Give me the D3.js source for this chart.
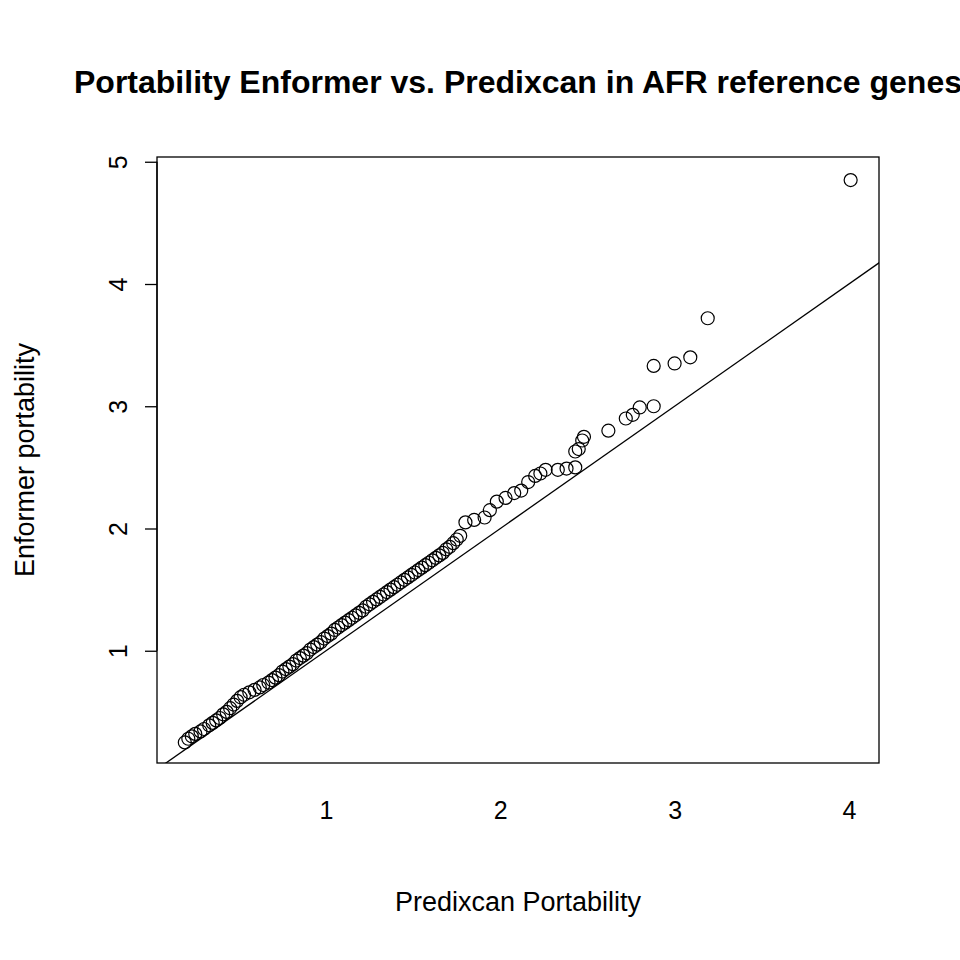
<!DOCTYPE html><html><head><script src="https://cdn.jsdelivr.net/npm/d3@7"></script>
<style>body{margin:0;background:#fff}text{font-family:"Liberation Sans",Arial,sans-serif}</style></head><body>
<script>
const predixcan=[0.19,0.21,0.23,0.25,0.28,0.30,0.33,0.35,0.37,0.39,0.41,0.43,0.45,0.47,0.49,0.51,0.53,0.56,0.59,0.62,0.64,0.67,0.69,0.71,0.73,0.75,0.77,0.79,0.81,0.83,0.85,0.87,0.89,0.91,0.93,0.95,0.97,0.99,1.01,1.03,1.05,1.07,1.09,1.11,1.13,1.15,1.17,1.19,1.21,1.23,1.25,1.27,1.29,1.31,1.33,1.35,1.37,1.39,1.41,1.43,1.45,1.47,1.49,1.51,1.53,1.55,1.57,1.59,1.61,1.63,1.65,1.67,1.69,1.71,1.73,1.75,1.77,
1.80,1.85,1.91,1.94,1.98,2.03,2.08,2.12,2.16,2.20,2.23,2.26,2.33,2.38,2.43,2.43,2.45,2.47,2.48,2.62,2.72,2.76,2.80,2.88,2.88,3.00,3.09,3.19,4.01];
const enformer=[0.25,0.28,0.30,0.32,0.34,0.36,0.39,0.41,0.43,0.45,0.48,0.50,0.53,0.56,0.59,0.62,0.64,0.66,0.68,0.70,0.72,0.74,0.76,0.78,0.80,0.83,0.85,0.87,0.89,0.92,0.94,0.96,0.98,1.01,1.03,1.05,1.07,1.10,1.12,1.14,1.17,1.19,1.21,1.23,1.25,1.27,1.29,1.31,1.33,1.36,1.38,1.40,1.42,1.44,1.46,1.48,1.50,1.52,1.54,1.56,1.58,1.60,1.62,1.64,1.66,1.68,1.70,1.72,1.74,1.76,1.78,1.80,1.83,1.85,1.88,1.91,1.94,
2.05,2.07,2.09,2.15,2.22,2.25,2.29,2.31,2.38,2.43,2.45,2.48,2.48,2.49,2.50,2.63,2.65,2.72,2.75,2.80,2.90,2.93,2.99,3.00,3.33,3.35,3.40,3.72,4.85];
const xTicks=[1,2,3,4], yTicks=[1,2,3,4,5];
const n=Math.min(predixcan.length,enformer.length);
const pts=d3.range(n).map(i=>[predixcan[i],enformer[i]]);
const svg=d3.select("body").append("svg").attr("width",960).attr("height",960);
const x=d3.scaleLinear().domain([0,1]).range([151.7,326]);
const y=d3.scaleLinear().domain([0,1]).range([773,650.75]);
const L=157,R=879,T=157,B=763;
svg.append("defs").append("clipPath").attr("id","c").append("rect").attr("x",L).attr("y",T).attr("width",R-L).attr("height",B-T);
svg.append("rect").attr("x",L).attr("y",T).attr("width",R-L).attr("height",B-T).attr("fill","none").attr("stroke","#000").attr("stroke-width",1.3);
svg.append("line").attr("clip-path","url(#c)").attr("x1",x(0)).attr("y1",y(0)).attr("x2",x(5)).attr("y2",y(5)).attr("stroke","#000").attr("stroke-width",1.3);
svg.append("g").selectAll("circle").data(pts).join("circle").attr("cx",d=>x(d[0])).attr("cy",d=>y(d[1])).attr("r",6.5).attr("fill","none").attr("stroke","#000").attr("stroke-width",1.2);
const xa=svg.append("g").attr("transform",`translate(0,${B})`).call(d3.axisBottom(x).tickValues(xTicks).tickSize(0).tickFormat(d3.format("d")));
xa.select(".domain").remove();xa.selectAll("text").attr("dy",0).attr("y",56).attr("font-size",25).attr("fill","#000");
const ya=svg.append("g").attr("transform",`translate(${L},0)`).call(d3.axisLeft(y).tickValues(yTicks).tickSize(12).tickFormat(d3.format("d")));
ya.select(".domain").attr("d",`M0,${y(1)}V${y(5)}`).attr("stroke-width",1.3);
ya.selectAll("line").attr("stroke-width",1.3);
ya.selectAll(".tick text").attr("x",0).attr("y",0).attr("dy",0).attr("text-anchor","middle").attr("font-size",25).attr("fill","#000")
 .attr("transform","translate(-30,0) rotate(-90)");
svg.append("text").attr("x",518).attr("y",911).attr("text-anchor","middle").attr("font-size",27).text("Predixcan Portability");
svg.append("text").attr("transform","translate(34,460) rotate(-90)").attr("text-anchor","middle").attr("font-size",27).text("Enformer portability");
svg.append("text").attr("x",518).attr("y",93).attr("text-anchor","middle").attr("font-size",32).attr("font-weight","bold").text("Portability Enformer vs. Predixcan in AFR reference genes");
</script></body></html>
